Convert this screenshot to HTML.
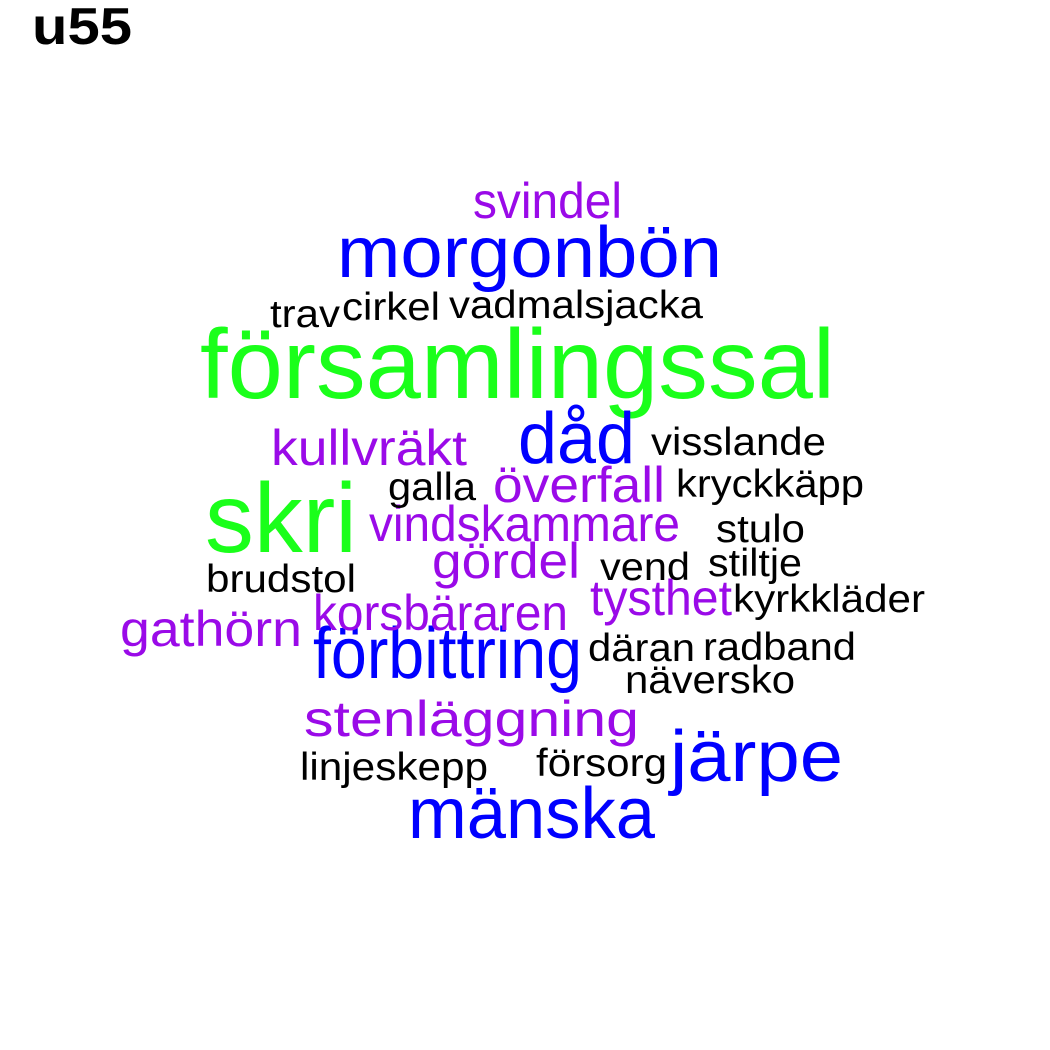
<!DOCTYPE html>
<html><head><meta charset="utf-8"><style>
html,body{margin:0;padding:0;background:#fff;}
svg{display:block;}
text{font-family:"Liberation Sans",Arial,sans-serif;}
</style></head><body>
<svg id="cloud" width="1050" height="1050" viewBox="0 0 1050 1050" xmlns="http://www.w3.org/2000/svg">
<rect width="1050" height="1050" fill="#fff"/>
<text x="32" y="44" font-size="52" font-weight="bold" fill="#000" textLength="100" lengthAdjust="spacingAndGlyphs">u55</text>
</svg>
<script>
// data: words and their frequency weight (4=largest, 1=smallest)
const words = ["församlingssal","skri","morgonbön","dåd","järpe","mänska","förbittring","stenläggning","svindel","kullvräkt","överfall","vindskammare","gördel","tysthet","korsbäraren","gathörn","visslande","trav","cirkel","vadmalsjacka","galla","kryckkäpp","stulo","stiltje","vend","brudstol","kyrkkläder","däran","radband","näversko","linjeskepp","försorg"];
const weights = [4,4,3,3,3,3,3,2,2,2,2,2,2,2,2,2,1,1,1,1,1,1,1,1,1,1,1,1,1,1,1,1];
// layout (from word-cloud placement): left x, baseline y, rendered width
const layoutX = [200,205,337,518,670,408,313,304,473,271,493,369,432,590,313,120,651,270,342,449,388,676,716,708,600,206,733,588,703,625,300,536];
const layoutY = [398,552,277,463,781,838,678,736,218,465,502,541,578,615,630,646,455,327,320,318,500,497,542,576,580,592,612,661,660,693,780,776];
const layoutW = [635,152,385,117,173,247,269,335,149,196,172,311,148,142,255,182,175,70,98,254,88,188,89,94,90,150,192,107,153,170,188,131];
const sizeFor = {4:98,3:72,2:50,1:39};
const colorFor = {4:"#1AFF1A",3:"#0000FF",2:"#9A0AE8",1:"#000000"};
const svg = document.getElementById('cloud');
const NS = "http://www.w3.org/2000/svg";
words.forEach((w,i)=>{
  const t = document.createElementNS(NS,'text');
  t.setAttribute('x', layoutX[i]);
  t.setAttribute('y', layoutY[i]);
  t.setAttribute('font-size', sizeFor[weights[i]]);
  t.setAttribute('fill', colorFor[weights[i]]);
  t.setAttribute('textLength', layoutW[i]);
  t.setAttribute('lengthAdjust', 'spacingAndGlyphs');
  t.textContent = w;
  
  
  svg.appendChild(t);
});
</script>
</body></html>
